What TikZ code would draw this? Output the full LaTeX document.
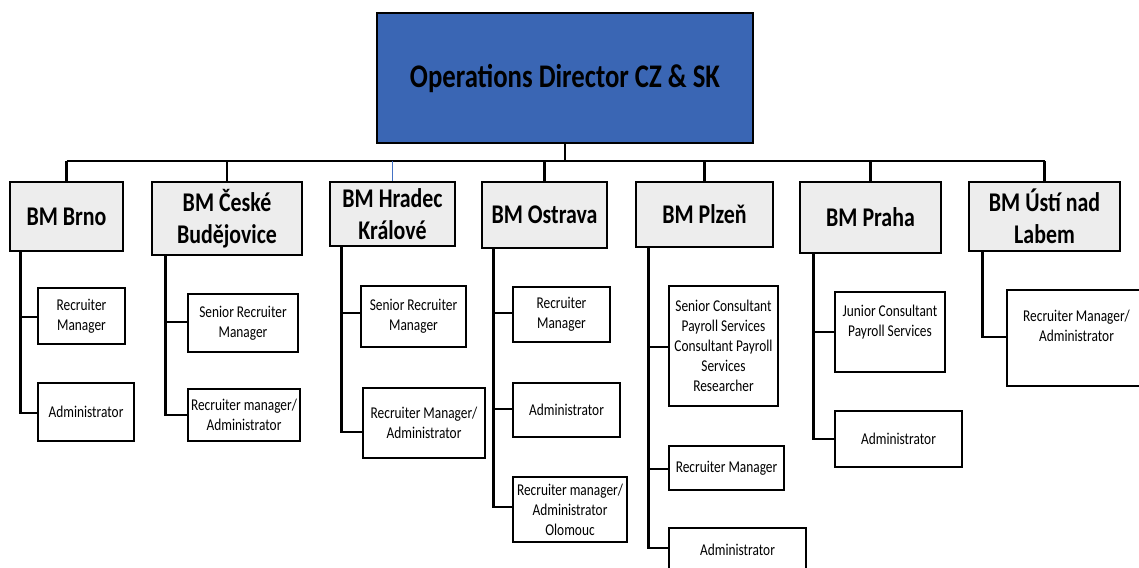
\documentclass[tikz,border=0pt]{standalone}
\usepackage{fontspec}
\setmainfont{Carlito}[FakeStretch=0.81]
\definecolor{topblue}{RGB}{58,102,180}
\definecolor{bmgray}{RGB}{237,237,237}
\definecolor{thinblue}{RGB}{68,114,196}
\tikzset{
  topbox/.style={draw=black, line width=2.6pt, fill=topblue, inner sep=0pt, align=center,
    font=\fontsize{33}{38}\selectfont\bfseries},
  bmbox/.style={draw=black, line width=2.6pt, fill=bmgray, inner sep=0pt, align=center,
    font=\fontsize{27}{32}\selectfont\bfseries},
  rolebox/.style={draw=black, line width=2.6pt, fill=white, inner sep=0pt, align=center,
    font=\fontsize{16.5}{20}\selectfont},
  conn/.style={draw=black, line width=2.8pt},
  thinconn/.style={draw=thinblue, line width=1pt}
}
\begin{document}
\begin{tikzpicture}[x=1pt,y=-1pt]
\useasboundingbox (0,0) rectangle (1139,567);
\clip (0,0) rectangle (1139,567);
% top
\node[topbox, minimum width=376pt, minimum height=130pt] (top) at (565,78) {Operations Director CZ \& SK};
% BM boxes
\node[bmbox, minimum width=113pt, minimum height=69pt] (brno) at (66.5,216.5) {BM Brno};
\node[bmbox, minimum width=150pt, minimum height=73pt] (ceske) at (227,218.5) {BM České\\Budějovice};
\node[bmbox, minimum width=125pt, minimum height=64pt] (hradec) at (392.5,214) {BM Hradec\\Králové};
\node[bmbox, minimum width=125pt, minimum height=66pt] (ostrava) at (544.5,215) {BM Ostrava};
\node[bmbox, minimum width=137pt, minimum height=65pt] (plzen) at (704.5,214.5) {BM Plzeň};
\node[bmbox, minimum width=141pt, minimum height=71pt] (praha) at (870.5,217.5) {BM Praha};
\node[bmbox, minimum width=151pt, minimum height=69pt] (usti) at (1044.5,216.5) {BM Ústí nad\\Labem};
% role boxes
\node[rolebox, minimum width=87pt, minimum height=56pt] (b1) at (81.5,316) {Recruiter\\Manager};
\node[rolebox, minimum width=96pt, minimum height=58pt] (b2) at (86,412) {Administrator};
\node[rolebox, minimum width=110pt, minimum height=58pt] (c1) at (243,323) {Senior Recruiter\\Manager};
\node[rolebox, minimum width=112pt, minimum height=52pt] (c2) at (244,415) {Recruiter manager/\\Administrator};
\node[rolebox, minimum width=105pt, minimum height=61pt] (h1) at (413.5,316.5) {Senior Recruiter\\Manager};
\node[rolebox, minimum width=122pt, minimum height=70pt] (h2) at (424,423) {Recruiter Manager/\\Administrator};
\node[rolebox, minimum width=97pt, minimum height=55pt] (o1) at (561.5,314.5) {Recruiter\\Manager};
\node[rolebox, minimum width=107pt, minimum height=54pt] (o2) at (566.5,410) {Administrator};
\node[rolebox, minimum width=114pt, minimum height=65pt] (o3) at (570,509.5) {Recruiter manager/\\Administrator\\Olomouc};
\node[rolebox, minimum width=109pt, minimum height=120pt] (p1) at (723.5,346) {Senior Consultant\\Payroll Services\\Consultant Payroll\\Services\\Researcher};
\node[rolebox, minimum width=115pt, minimum height=44pt] (p2) at (726.5,468) {Recruiter Manager};
\node[rolebox, minimum width=137pt, minimum height=44pt] (p3) at (737.5,550) {Administrator};
\node[rolebox, minimum width=110pt, minimum height=80pt] (r1) at (890,332) {Junior Consultant\\Payroll Services\\[2pt]};
\node[rolebox, minimum width=127pt, minimum height=56pt] (r2) at (898.5,439) {Administrator};
\node[rolebox, minimum width=139pt, minimum height=96pt] (u1) at (1076.5,338) {Recruiter Manager/\\Administrator\\[4pt]};
% bus
\coordinate (bus) at (565,161);
\draw[conn] (top.south) -- (bus);
\draw[conn] (brno.north |- bus) -- (usti.north |- bus);
\foreach \n in {brno,ceske,ostrava,plzen,praha,usti}{
  \draw[conn] (\n.north |- bus) -- (\n.north);
}
\draw[thinconn] (hradec.north |- bus) -- (hradec.north);
% spines
\coordinate (sb) at ([xshift=12pt]brno.south west);
\coordinate (sc) at ([xshift=15pt]ceske.south west);
\coordinate (sh) at ([xshift=13pt]hradec.south west);
\coordinate (so) at ([xshift=13pt]ostrava.south west);
\coordinate (sp) at ([xshift=14pt]plzen.south west);
\coordinate (sr) at ([xshift=15pt]praha.south west);
\coordinate (su) at ([xshift=15pt]usti.south west);
\draw[conn] (sb) |- ([yshift=-1pt]b1.west);
\draw[conn] (sb) |- ([yshift=-1pt]b2.west);
\draw[conn] (sc) |- ([yshift=1pt]c1.west);
\draw[conn] (sc) |- (c2.west);
\draw[conn] (sh) |- ([yshift=3.5pt]h1.west);
\draw[conn] (sh) |- ([yshift=-9pt]h2.west);
\draw[conn] (so) |- ([yshift=1.5pt]o1.west);
\draw[conn] (so) |- ([yshift=1pt]o2.west);
\draw[conn] (so) |- ([yshift=2.5pt]o3.west);
\draw[conn] (sp) |- ([yshift=-1pt]p1.west);
\draw[conn] (sp) |- ([yshift=-1pt]p2.west);
\draw[conn] (sp) |- ([yshift=2pt]p3.west);
\draw[conn] (sr) |- (r1.west);
\draw[conn] (sr) |- (r2.west);
\draw[conn] (su) |- ([yshift=1pt]u1.west);
\end{tikzpicture}
\end{document}
